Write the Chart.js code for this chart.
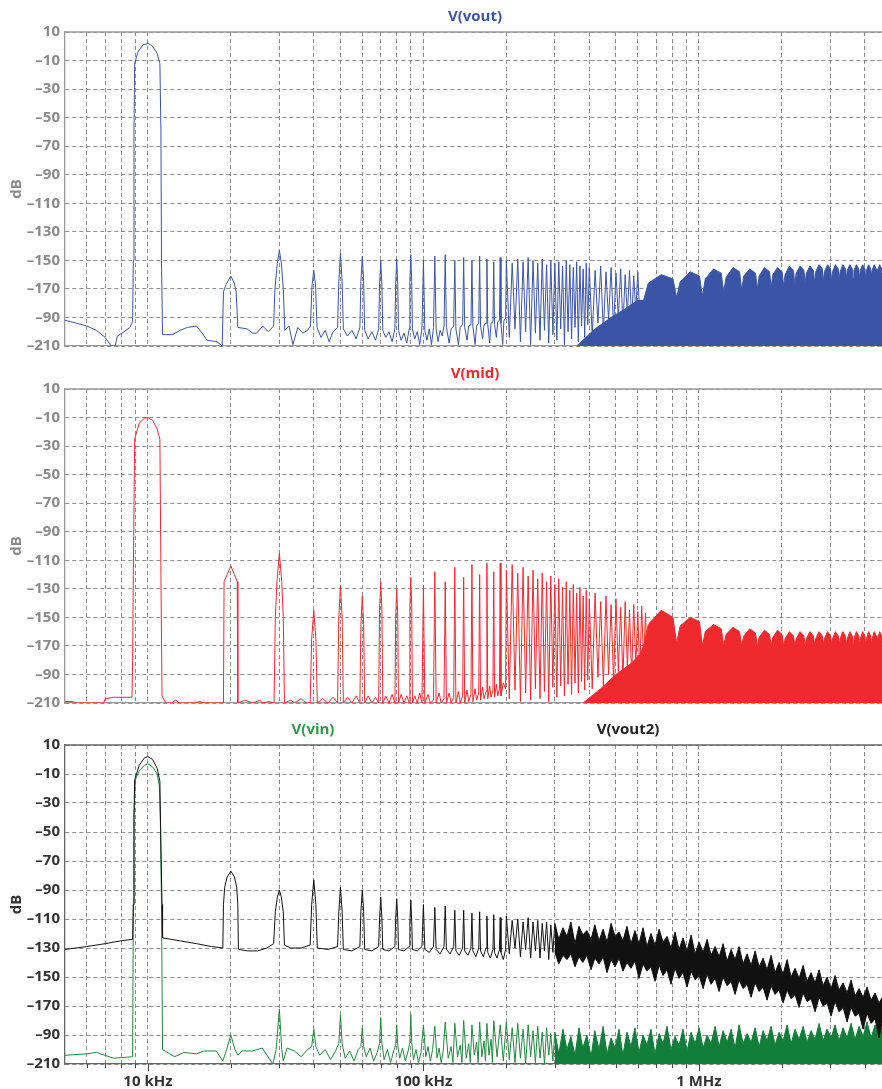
<!DOCTYPE html>
<html>
<head>
<meta charset="utf-8">
<script src="https://cdn.jsdelivr.net/npm/chart.js@4.4.0/dist/chart.umd.min.js"></script>
<style>
  html, body { margin: 0; padding: 0; background: #fff; }
  .panel { position: absolute; left: 0; width: 882px; }
  #p1 { top: 0; height: 360px; }
  #p2 { top: 360px; height: 357px; }
  #p3 { top: 717px; height: 372px; }
</style>
</head>
<body>
<div class="panel" id="p1"><canvas id="c1"></canvas></div>
<div class="panel" id="p2"><canvas id="c2"></canvas></div>
<div class="panel" id="p3"><canvas id="c3"></canvas></div>
<script>
// grid / tick frequencies (Hz)
const gridHz = [6e3,7e3,8e3,9e3,1e4,2e4,3e4,4e4,5e4,6e4,7e4,8e4,9e4,1e5,2e5,3e5,4e5,5e5,6e5,7e5,8e5,9e5,1e6,2e6,3e6,4e6];
const majorHz = [1e4, 1e5, 1e6];
const majorLabels = ['10 kHz', '100 kHz', '1 MHz'];
const yTicks = [10,-10,-30,-50,-70,-90,-110,-130,-150,-170,-190,-210];
const yTickLabels = ['10','–10','–30','–50','–70','–90','–110','–130','–150','–170','–90','–210'];

// V(vout) trace, [kHz, dB]
const voutPts = [[5,-192],[5.5,-194],[6,-196],[6.5,-199],[7,-204],[7.35,-210],[7.6,-210],[7.75,-203],[8.2,-200],[8.6,-197],[8.8,-193],
 [8.85,-150],[8.9,-60],[8.95,-12],[9.2,-4],[9.6,1],[10,2],[10.4,0],[10.8,-5],[11.05,-12],[11.15,-60],[11.2,-150],[11.3,-202],
 [12.3,-202],[13.1,-199],[13.9,-197],[15,-196],[15.6,-200],[16.4,-206],[17.8,-207],[18.6,-210],
 [18.8,-172],[19.2,-167],[20,-161],[20.6,-166],[20.9,-172],[21.2,-197],
 [22.9,-198],[24,-201],[24.8,-201],[26.1,-196],[27.3,-200],[28.6,-196],
 [28.9,-170],[29.5,-152],[30,-143],[30.5,-152],[31,-170],[31.4,-199],[32.5,-196],[33.6,-209],[35,-197],[36.5,-201],[38,-199],
 [38.9,-196],[39.4,-168],[40,-157],[40.6,-168],[41.1,-197],[42.5,-204],[44,-199],[45.5,-207],[47,-200],[48.8,-197],
 [49.3,-165],[50,-145],[50.7,-165],[51.2,-198],[53,-203],[55,-199],[57,-205],[58.8,-197],
 [59.3,-165],[60,-147],[60.7,-165],[61.2,-199],[63,-205],[65,-200],[67,-206],[68.8,-198],
 [69.3,-168],[70,-150],[70.7,-168],[71.2,-199],[73,-204],[75,-200],[77,-207],[78.8,-198],
 [79.3,-167],[80,-149],[80.7,-167],[81.2,-199],[83,-206],[85,-201],[87,-208],[88.8,-198],
 [89.3,-165],[90,-146],[90.7,-165],[91.2,-198],[93,-205],[95,-200],[97,-209],[98.8,-197],
 [100,-150],[101.2,-199],[103,-206],[105,-198],[107,-209],[108.8,-197],
 [110,-147],[111.2,-198],[113,-207],[115,-199],[117,-203],[118.8,-196],
 [120,-146],[121.2,-197],[124,-208],[126,-198],[128.8,-196],
 [130,-150],[131.2,-198],[134,-209],[136,-197],[138.8,-195],
 [140,-148],[141.2,-197],[144,-206],[146,-196],[148.8,-195],
 [150,-150],[151.2,-196],[154,-209],[156,-196],[158.8,-194],
 [160,-147],[161.2,-196],[164,-205],[166,-195],[168.8,-194],
 [170,-149],[171.2,-195],[174,-208],[176,-194],[178.8,-193],
 [180,-151],[181.2,-195],[184,-204],[186,-193],[188.8,-192],
 [190,-148],[191.2,-194],[194,-209],[196,-192],[198.8,-191],
 [200,-150],[205,-204],[210,-152],[215,-198],[220,-149],[225,-207],[230,-151],[235,-200],[240,-148],[245,-209],
 [250,-150],[255,-201],[260,-152],[265,-206],[270,-149],[275,-199],[280,-153],[285,-208],[290,-150],[295,-202],
 [300,-152],[305,-206],[310,-151],[315,-198],[320,-154],[325,-209],[330,-150],[335,-200],[340,-153],[345,-205],
 [350,-155],[355,-197],[360,-151],[365,-207],[370,-154],[375,-196],[380,-156],[385,-204],[390,-152],[395,-195],
 [400,-155],[410,-203],[420,-157],[430,-194],[440,-154],[450,-200],[460,-158],[470,-192],[480,-155],[490,-198],
 [500,-159],[510,-190],[520,-156],[530,-196],[540,-160],[550,-188],[560,-157],[570,-193],[580,-161],[590,-186],[600,-158],[610,-190]];
// V(vout) solid region, [kHz, upper edge] filled down to -210
const voutBand = [[360,-210],[420,-198],[480,-190],[540,-184],[600,-178],
 [630,-178],[655,-166],[730,-160],[805,-163],
 [830,-176],[855,-165],[930,-158],[1005,-161],
 [1030,-175],[1055,-163],[1130,-156],[1205,-159],
 [1230,-172],[1255,-162],[1330,-155],[1405,-158],
 [1430,-171],[1455,-161],[1530,-156],[1605,-159],
 [1630,-170],[1655,-161],[1730,-155],[1805,-158],
 [1830,-169],[1855,-160],[1930,-155],[2005,-158],
 [2030,-168],[2055,-160],[2130,-154],[2205,-157],
 [2230,-167],[2255,-159],[2330,-154],[2405,-157],
 [2430,-166],[2455,-159],[2530,-154],[2605,-157],
 [2630,-166],[2655,-158],[2730,-153],[2805,-156],
 [2830,-165],[2855,-158],[2930,-153],[3005,-156],
 [3030,-165],[3055,-158],[3130,-153],[3205,-156],
 [3230,-164],[3255,-158],[3330,-153],[3405,-156],
 [3430,-164],[3455,-157],[3530,-153],[3605,-156],
 [3630,-163],[3655,-157],[3730,-153],[3805,-156],
 [3830,-163],[3855,-157],[3930,-153],[4005,-156],
 [4030,-163],[4055,-157],[4130,-153],[4205,-156],
 [4230,-162],[4255,-157],[4330,-153],[4405,-156],
 [4430,-162],[4455,-157],[4530,-153],[4605,-156],[4630,-162]];

// V(mid) trace
const midPts = [[5,-209],[5.3,-209],[5.5,-210],[6.9,-210],[7,-207],[7.5,-206],[8.75,-206],
 [8.8,-180],[8.85,-120],[8.95,-25],[9.3,-14],[9.7,-10.5],[10,-10],[10.4,-12],[10.8,-18],[11.05,-25],[11.15,-120],[11.25,-205],[11.6,-210],
 [12.2,-210],[12.6,-208],[13,-210],[14.8,-210],[15.4,-209],[16,-210],
 [18.8,-210],[18.9,-125],[19.4,-120],[20,-114],[20.6,-120],[21.1,-125],[21.2,-210],[22.5,-208],[24,-210],[25.5,-208],[26,-210],[27.5,-209],
 [28.7,-210],[29,-150],[29.4,-125],[30,-105],[30.6,-125],[31,-150],[31.3,-210],[33,-208],[34,-210],[36,-207],[37.5,-210],
 [38.8,-210],[39.3,-165],[40,-145],[40.7,-165],[41.2,-210],[43,-207],[45,-210],[47,-206],[48.8,-210],
 [49.3,-150],[50,-128],[50.7,-150],[51.2,-210],[53,-206],[55,-210],[57,-205],[58.8,-210],
 [59.3,-155],[60,-135],[60.7,-155],[61.2,-210],[63,-205],[65,-210],[67,-206],[68.8,-210],
 [69.3,-145],[70,-125],[70.7,-145],[71.2,-210],[73,-205],[75,-210],[77,-204],[78.8,-210],
 [79.3,-150],[80,-130],[80.7,-150],[81.2,-210],[83,-204],[85,-210],[87,-205],[88.8,-210],
 [89.3,-142],[90,-122],[90.7,-142],[91.2,-210],[93,-205],[95,-210],[97,-203],[98.8,-210],
 [100,-128],[101.2,-210],[104,-204],[106,-210],[108.8,-208],
 [110,-118],[111.2,-210],[114,-203],[116,-210],[118.8,-207],
 [120,-125],[121.2,-210],[124,-203],[126,-210],[128.8,-206],
 [130,-115],[131.2,-210],[134,-202],[136,-210],[138.8,-205],
 [140,-122],[141.2,-210],[144,-201],[146,-209],[148.8,-204],
 [150,-113],[151.2,-209],[154,-200],[156,-208],[158.8,-203],
 [160,-120],[161.2,-208],[164,-199],[166,-207],[168.8,-202],
 [170,-112],[171.2,-207],[174,-198],[176,-206],[178.8,-201],
 [180,-118],[181.2,-206],[184,-197],[186,-205],[188.8,-200],
 [190,-112],[191.2,-205],[195,-196],[198.8,-200],
 [200,-117],[205,-207],[210,-113],[215,-201],[220,-119],[225,-209],[230,-115],[235,-203],[240,-121],[245,-208],
 [250,-117],[255,-200],[260,-123],[265,-207],[270,-119],[275,-202],[280,-125],[285,-209],[290,-121],[295,-199],
 [300,-127],[305,-206],[310,-123],[315,-198],[320,-129],[325,-205],[330,-125],[335,-197],[340,-131],[345,-204],
 [350,-127],[355,-196],[360,-133],[365,-203],[370,-129],[375,-195],[380,-135],[385,-201],[390,-131],[395,-194],
 [400,-137],[410,-200],[420,-133],[430,-192],[440,-139],[450,-198],[460,-135],[470,-190],[480,-141],[490,-196],
 [500,-137],[510,-188],[520,-143],[530,-194],[540,-139],[550,-186],[560,-145],[570,-192],[580,-141],[590,-184],
 [600,-146],[610,-190],[620,-142],[630,-182],[640,-147],[650,-188]];
const midBand = [[380,-210],[440,-200],[500,-190],[570,-182],[610,-176],
 [630,-170],[655,-155],[730,-145],[805,-150],
 [830,-168],[855,-156],[930,-150],[1005,-153],
 [1030,-170],[1055,-160],[1130,-155],[1205,-158],
 [1230,-170],[1255,-162],[1330,-157],[1405,-160],
 [1430,-170],[1455,-163],[1530,-158],[1605,-161],
 [1630,-170],[1655,-164],[1730,-159],[1805,-162],
 [1830,-170],[1855,-164],[1930,-159],[2005,-162],
 [2030,-170],[2055,-165],[2130,-160],[2205,-163],
 [2230,-170],[2255,-165],[2330,-160],[2405,-163],
 [2430,-170],[2455,-165],[2530,-160],[2605,-163],
 [2630,-169],[2655,-165],[2730,-160],[2805,-163],
 [2830,-169],[2855,-165],[2930,-160],[3005,-163],
 [3030,-169],[3055,-165],[3130,-160],[3205,-163],
 [3230,-169],[3255,-165],[3330,-160],[3405,-163],
 [3430,-169],[3455,-165],[3530,-160],[3605,-163],
 [3630,-169],[3655,-165],[3730,-160],[3805,-163],
 [3830,-169],[3855,-165],[3930,-160],[4005,-163],
 [4030,-169],[4055,-165],[4130,-160],[4205,-163],
 [4230,-169],[4255,-165],[4330,-160],[4405,-163],
 [4430,-169],[4455,-165],[4530,-160],[4605,-163],[4630,-169]];

// V(vout2) trace up to 300 kHz
const vout2Pts = [[5,-131],[6,-129],[7,-127],[8,-125],[8.8,-124],[8.85,-100],[8.9,-40],[8.95,-14],[9.3,-4],[9.7,1],[10,2],[10.4,0],[10.8,-6],[11.05,-15],[11.15,-60],[11.25,-100],[11.3,-123],
 [13,-125],[15,-127],[17,-129],[18.7,-130],[18.8,-100],[19,-88],[19.4,-81],[20,-77],[20.6,-81],[21,-88],[21.2,-100],[21.3,-131],
 [23,-132],[25,-132],[27,-130],[28.6,-127],[29,-105],[29.5,-95],[30,-90],[30.5,-95],[31,-105],[31.3,-128],[33,-130],[36,-130],
 [38.8,-128],[39.3,-100],[40,-83],[40.7,-100],[41.2,-130],[45,-131],[48.8,-129],
 [49.3,-105],[50,-88],[50.7,-105],[51.2,-131],[55,-132],[58.8,-129],
 [59.3,-105],[60,-90],[60.7,-105],[61.2,-131],[65,-132],[68.8,-129],
 [69.3,-110],[70,-95],[70.7,-110],[71.2,-131],[75,-132],[78.8,-129],
 [79.3,-110],[80,-96],[80.7,-110],[81.2,-131],[85,-132],[88.8,-129],
 [89.3,-112],[90,-97],[90.7,-112],[91.2,-131],[95,-132],[98.8,-129],
 [100,-100],[101.2,-131],[105,-133],[108.8,-129],
 [110,-102],[111.2,-131],[115,-134],[118.8,-129],
 [120,-101],[121.2,-131],[125,-134],[128.8,-129],
 [130,-104],[131.2,-132],[135,-135],[138.8,-130],
 [140,-104],[141.2,-132],[145,-135],[148.8,-130],
 [150,-106],[151.2,-132],[155,-136],[158.8,-130],
 [160,-105],[161.2,-132],[165,-136],[168.8,-130],
 [170,-108],[171.2,-133],[175,-137],[178.8,-131],
 [180,-107],[181.2,-133],[185,-137],[188.8,-131],
 [190,-109],[191.2,-133],[195,-138],[198.8,-131],
 [200,-108],[205,-134],[210,-111],[215,-130],[220,-110],[225,-136],[230,-112],[235,-131],[240,-109],[245,-137],
 [250,-112],[255,-132],[260,-111],[265,-137],[270,-113],[275,-132],[280,-112],[285,-138],[290,-114],[295,-133],[300,-113]];

// dense region above 300 kHz: shared frequencies (kHz) with upper / lower edges
const denseKHz = [300,310,321,332,343,355,367,379,392,406,419,434,449,464,480,496,513,530,548,567,586,606,627,648,670,693,717,741,766,792,
 819,847,876,906,937,969,1002,1036,1071,1107,1145,1184,1224,1266,1309,1353,1399,1447,1496,1547,1600,1654,1710,1768,1828,1890,1955,2021,2090,2161,
 2234,2310,2389,2470,2554,2641,2731,2823,2919,3019,3121,3227,3337,3451,3568,3689,3815,3944,4078,4217,4360,4508,4630];
const vout2DenseHi = [-113,-124,-116,-122,-112,-127,-115,-121,-118,-124,-114,-125,-117,-126,-113,-122,-119,-125,-115,-127,
 -118,-127,-116,-129,-120,-128,-117,-126,-122,-130,-119,-131,-123,-132,-121,-134,-126,-133,-124,-135,
 -129,-136,-127,-139,-131,-138,-129,-141,-134,-142,-132,-143,-137,-145,-135,-147,-140,-148,-138,-150,
 -144,-151,-142,-153,-147,-154,-145,-156,-150,-158,-149,-159,-154,-161,-152,-163,-158,-164,-157,-166,-161,-168,-164];
const vout2DenseLo = [-133,-141,-135,-138,-134,-143,-136,-140,-135,-145,-137,-141,-136,-147,-138,-143,-137,-146,-140,-144,
 -139,-151,-141,-146,-143,-153,-142,-149,-145,-155,-144,-151,-147,-157,-146,-152,-149,-158,-148,-155,
 -151,-160,-150,-156,-153,-162,-152,-158,-155,-164,-154,-160,-157,-166,-156,-162,-159,-168,-159,-165,
 -162,-171,-161,-167,-165,-174,-164,-170,-168,-177,-167,-174,-171,-181,-171,-177,-175,-186,-175,-182,-179,-192,-180];

// V(vin) trace up to 300 kHz
const vinPts = [[5,-204],[6,-203],[6.5,-202],[7.5,-206],[8.8,-205],[8.85,-100],[8.9,-40],[9,-14],[9.3,-8],[9.7,-4],[10,-3],[10.4,-5],[10.8,-10],[11,-18],[11.1,-45],[11.2,-100],[11.3,-200],
 [12,-203],[12.5,-205],[13.5,-202],[15,-203],[16,-201],[17.7,-201],[18.7,-208],[19.3,-200],[20,-190],[20.7,-200],[21.2,-204],
 [22,-201],[24,-201],[26,-199],[28.4,-210],[29.2,-200],[30,-172],[30.6,-200],[31,-208],[32,-199],[34,-201],[36,-205],[38,-200],
 [39.3,-198],[40,-186],[40.7,-198],[42,-204],[44,-200],[46,-207],[48,-201],
 [49.3,-196],[50,-176],[50.7,-196],[52,-206],[54,-201],[56,-208],[58,-200],
 [59.3,-198],[60,-185],[60.7,-198],[62,-205],[64,-199],[66,-208],[68,-202],
 [69.3,-196],[70,-178],[70.7,-196],[72,-207],[74,-200],[76,-209],[78,-201],
 [79.3,-197],[80,-183],[80.7,-197],[82,-206],[84,-199],[86,-208],[88,-201],
 [89.3,-195],[90,-176],[90.7,-195],[92,-207],[94,-200],[96,-209],[98,-202],
 [100,-183],[102,-205],[104,-198],[106,-208],[108,-200],[110,-184],[112,-206],[114,-199],[116,-209],[118,-201],
 [120,-181],[123,-206],[126,-198],[128,-209],[130,-182],[133,-205],[136,-197],[138,-209],[140,-180],[143,-206],
 [146,-196],[148,-209],[150,-183],[153,-204],[156,-195],[158,-209],[160,-181],[163,-205],[166,-194],[168,-208],
 [170,-182],[173,-204],[176,-193],[178,-209],[180,-180],[185,-205],[190,-183],[195,-208],[200,-181],
 [205,-207],[210,-185],[215,-209],[220,-182],[225,-206],[230,-186],[235,-210],[240,-183],[245,-205],[250,-187],
 [255,-209],[260,-184],[265,-206],[270,-188],[275,-210],[280,-185],[285,-204],[290,-189],[295,-208],[300,-188]];
const vinDenseHi = [-188,-203,-186,-200,-191,-204,-185,-199,-190,-205,-187,-200,-184,-203,-192,-199,-186,-204,-188,-198,
 -185,-202,-190,-197,-186,-203,-189,-196,-184,-200,-191,-197,-186,-201,-188,-196,-185,-199,-190,-196,
 -184,-198,-187,-195,-186,-199,-183,-196,-189,-195,-185,-198,-187,-194,-184,-197,-188,-194,-183,-196,
 -186,-193,-184,-195,-187,-193,-182,-194,-186,-192,-183,-194,-185,-192,-182,-193,-184,-191,-181,-192,-183,-190,-182];

// ---- helpers ----
const toXY = pts => pts.map(p => ({x: p[0] * 1000, y: p[1]}));
const zipXY = (ks, ys) => ks.map((k, i) => ({x: k * 1000, y: ys[i]}));

function lineSet(label, data, color, order) {
  return {label, data, borderColor: color, borderWidth: 1, pointRadius: 0, fill: false, order};
}
function fillSet(label, data, color, order) {
  return {label, data, borderColor: color, backgroundColor: color, borderWidth: 1, pointRadius: 0, fill: {value: -210}, order};
}
function bandSets(label, hi, lo, color, order) {
  return [
    {label: label + ' hi', data: hi, borderColor: color, backgroundColor: color, borderWidth: 1, pointRadius: 0, fill: '+1', order},
    {label: label + ' lo', data: lo, borderColor: color, borderWidth: 1, pointRadius: 0, fill: false, order}
  ];
}

const font = 'Open Sans';

function makePanel(id, cfg) {
  const framePlugin = {
    id: 'frame' + id,
    afterDraw(chart) {
      const {ctx, chartArea: a} = chart;
      ctx.save();
      ctx.strokeStyle = cfg.axisColor;
      ctx.lineWidth = 1.3;
      ctx.beginPath();
      ctx.moveTo(a.left, a.top);
      ctx.lineTo(a.right, a.top);
      ctx.stroke();
      if (cfg.xLabels) {
        const xs = chart.scales.x;
        ctx.strokeStyle = '#444';
        ctx.lineWidth = 1;
        gridHz.forEach(v => {
          const px = Math.round(xs.getPixelForValue(v)) + 0.5;
          const len = majorHz.includes(v) ? 7 : 4;
          ctx.beginPath();
          ctx.moveTo(px, a.bottom);
          ctx.lineTo(px, a.bottom + len);
          ctx.stroke();
        });
      }
      ctx.font = 'bold 15px ' + font;
      ctx.textAlign = 'center';
      ctx.textBaseline = 'middle';
      cfg.titles.forEach(t => {
        ctx.fillStyle = t.color;
        ctx.fillText(t.text, t.x, a.top - cfg.titleGap);
      });
      ctx.restore();
    }
  };

  return new Chart(document.getElementById(id), {
    type: 'line',
    data: {datasets: cfg.datasets},
    options: {
      responsive: true,
      maintainAspectRatio: false,
      animation: false,
      events: [],
      layout: {padding: {top: cfg.padTop, right: 0, left: 0, bottom: 0}},
      plugins: {legend: {display: false}, tooltip: {enabled: false}, title: {display: false}},
      elements: {line: {tension: 0}},
      scales: {
        x: {
          type: 'logarithmic',
          min: 5000,
          max: 4.62e6,
          afterBuildTicks: s => { s.ticks = gridHz.map(v => ({value: v})); },
          afterFit: s => { s.height = cfg.xHeight; },
          grid: {color: '#8e8e8e', lineWidth: 1, drawTicks: false},
          border: {display: true, color: cfg.axisColor, width: 1.3, dash: [4, 3]},
          ticks: {
            display: cfg.xLabels,
            autoSkip: false,
            maxRotation: 0,
            padding: 9,
            color: '#333',
            font: {family: font, weight: 'bold', size: 15},
            callback: v => { const i = majorHz.indexOf(v); return i >= 0 ? majorLabels[i] : ''; }
          }
        },
        y: {
          type: 'linear',
          min: -210,
          max: 10,
          afterBuildTicks: s => { s.ticks = yTicks.map(v => ({value: v})); },
          afterFit: s => { s.width = 65; },
          grid: {color: '#8e8e8e', lineWidth: 1, drawTicks: false},
          border: {display: true, color: cfg.axisColor, width: 1.3, dash: [4, 3]},
          ticks: {
            padding: 5,
            color: cfg.textColor,
            font: {family: font, weight: 'bold', size: 15},
            callback: v => yTickLabels[yTicks.indexOf(v)]
          },
          title: {
            display: true,
            text: 'dB',
            color: cfg.textColor,
            font: {family: font, weight: 'bold', size: 15},
            padding: {top: 8, bottom: 0}
          }
        }
      }
    },
    plugins: [framePlugin]
  });
}

const blue = '#3a55a5', red = '#ee2a2e', black = '#111111', green = '#1f8a3e', darkGreen = '#137d3a';

makePanel('c1', {
  padTop: 32, xHeight: 12, xLabels: false, axisColor: '#9a9a9a', textColor: '#8a8a8a', titleGap: 15,
  titles: [{text: 'V(vout)', color: blue, x: 475}],
  datasets: [lineSet('V(vout)', toXY(voutPts), blue, 0), fillSet('V(vout) dense', toXY(voutBand), blue, 1)]
});
makePanel('c2', {
  padTop: 29, xHeight: 13, xLabels: false, axisColor: '#9a9a9a', textColor: '#8a8a8a', titleGap: 15,
  titles: [{text: 'V(mid)', color: red, x: 475}],
  datasets: [lineSet('V(mid)', toXY(midPts), red, 0), fillSet('V(mid) dense', toXY(midBand), red, 1)]
});
makePanel('c3', {
  padTop: 28, xHeight: 25, xLabels: true, axisColor: '#666666', textColor: '#333333', titleGap: 15,
  titles: [{text: 'V(vin)', color: '#2e9a48', x: 313}, {text: 'V(vout2)', color: '#222222', x: 628}],
  datasets: [lineSet('V(vout2)', toXY(vout2Pts), black, 0),
             ...bandSets('V(vout2) dense', zipXY(denseKHz, vout2DenseHi), zipXY(denseKHz, vout2DenseLo), black, 1),
             lineSet('V(vin)', toXY(vinPts), green, 2),
             fillSet('V(vin) dense', zipXY(denseKHz, vinDenseHi), darkGreen, 3)]
});
</script>
</body>
</html>
